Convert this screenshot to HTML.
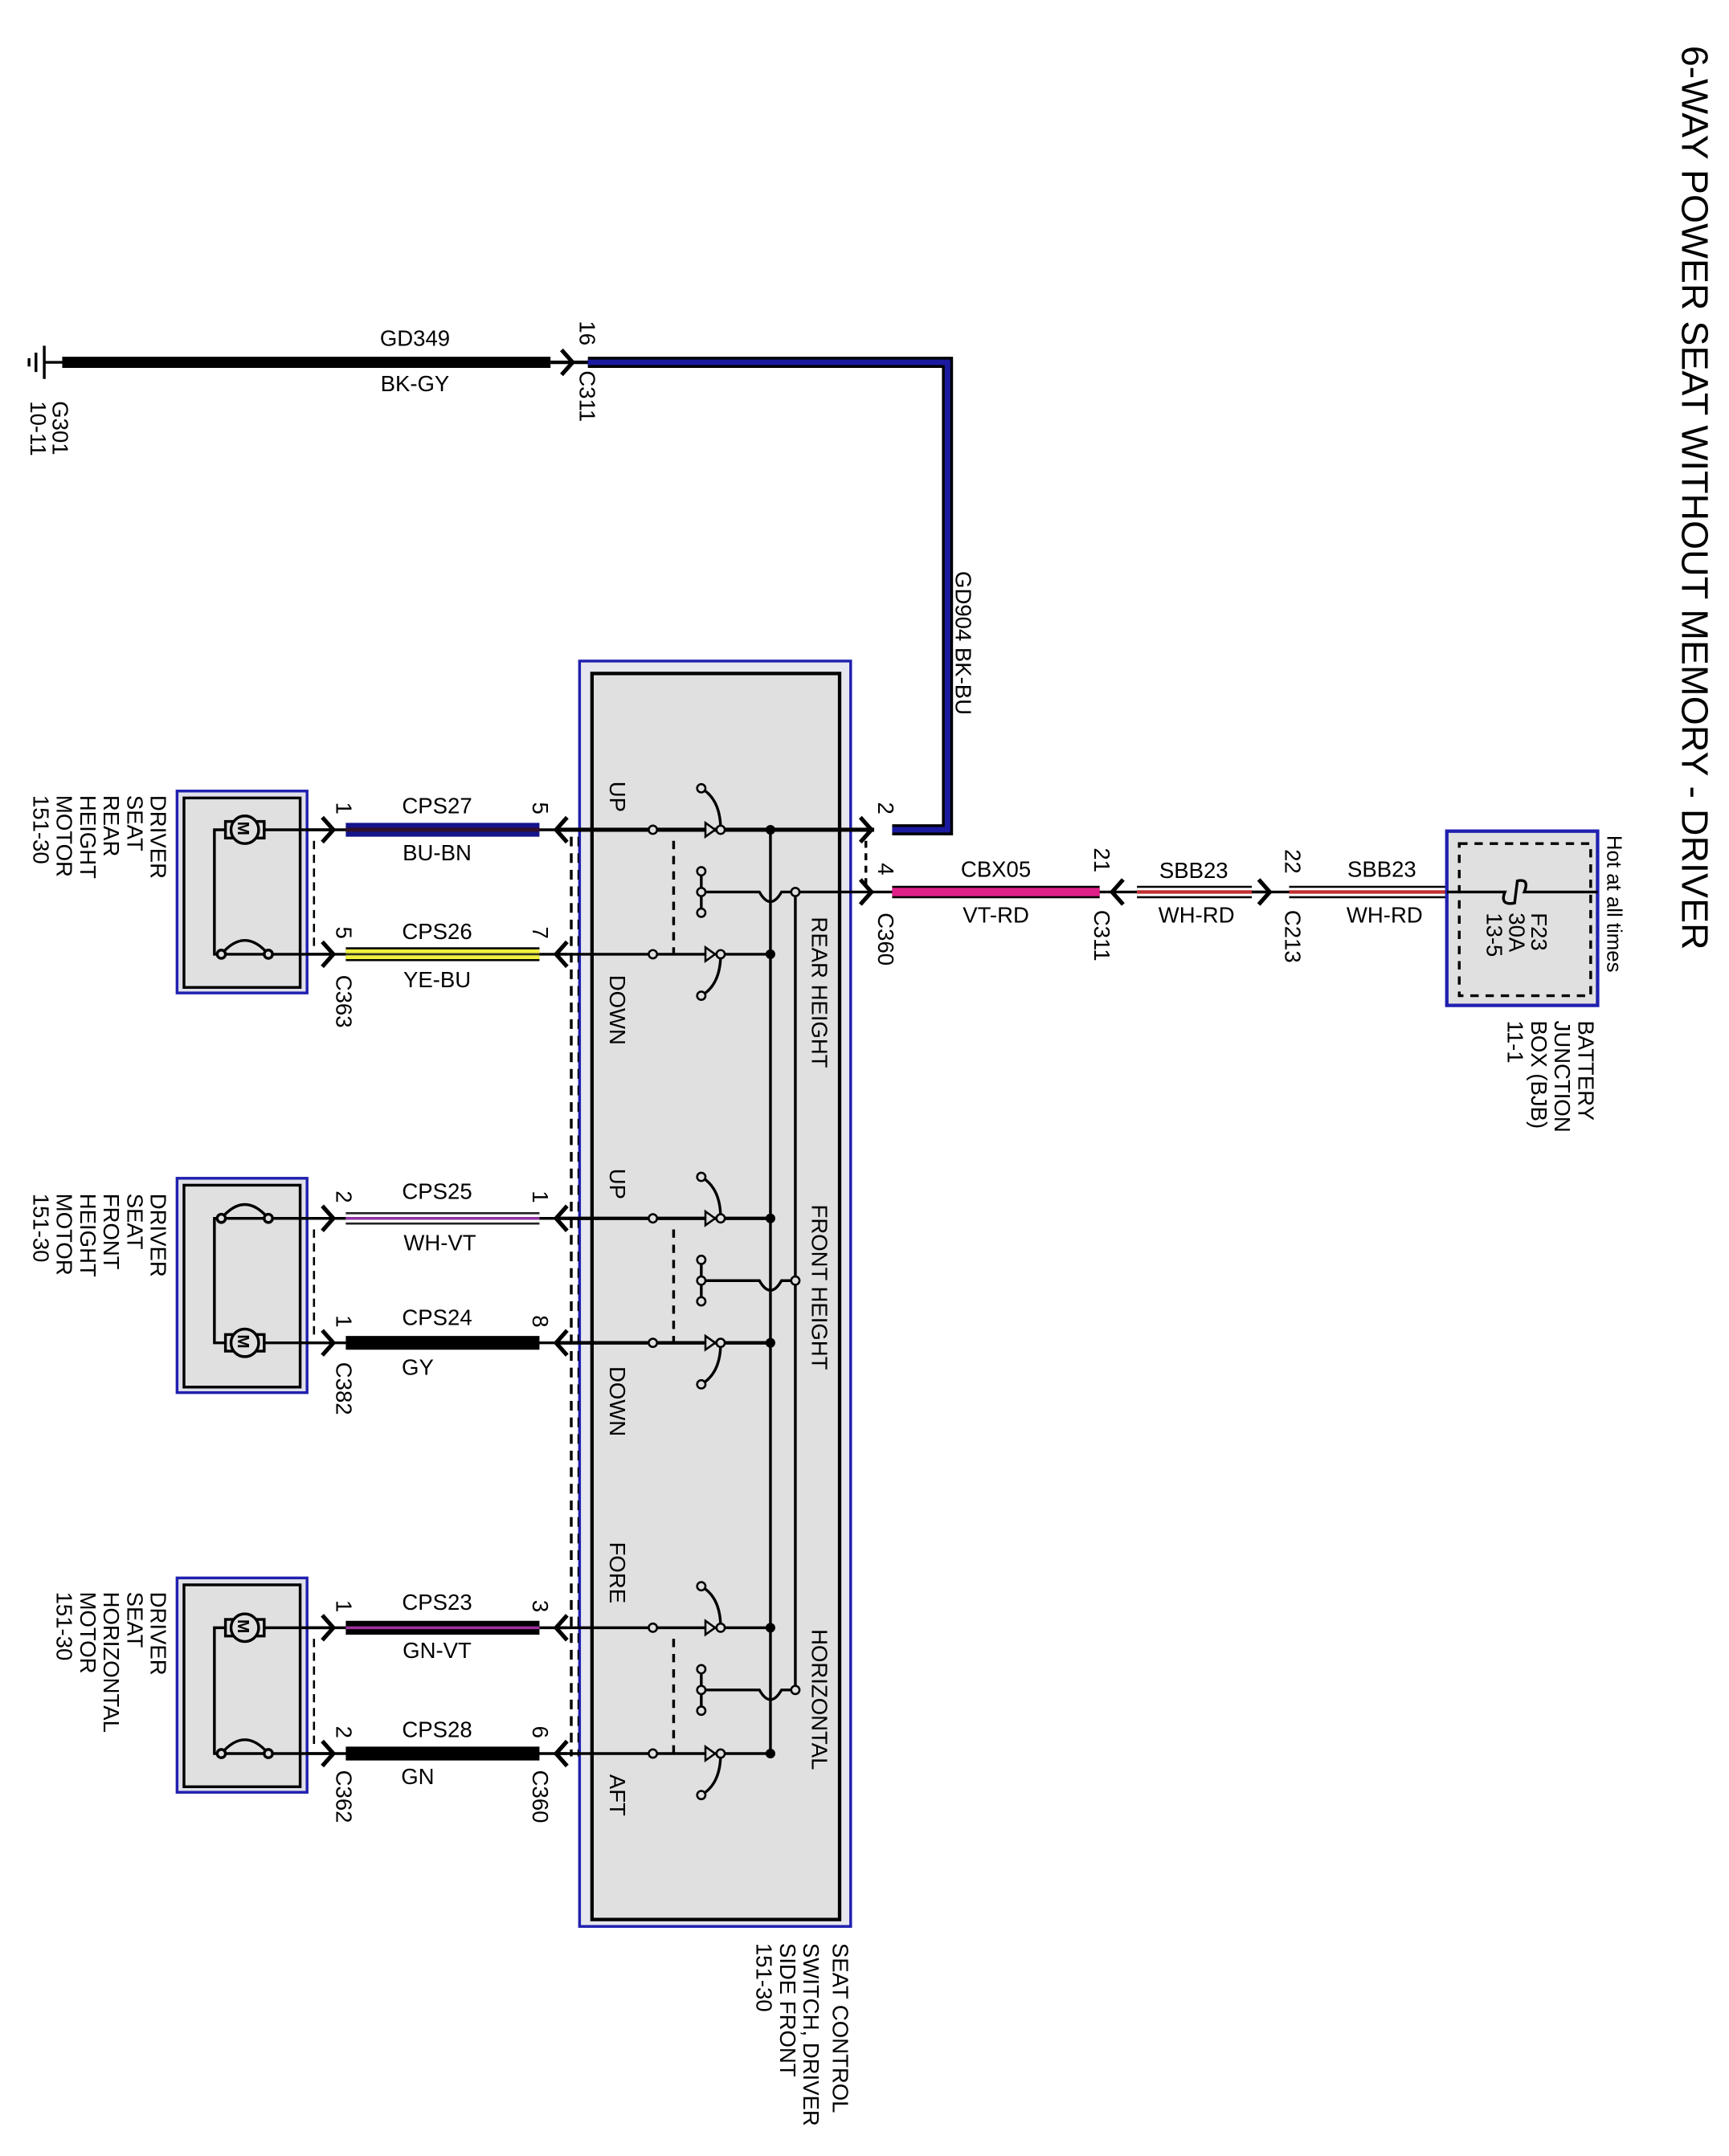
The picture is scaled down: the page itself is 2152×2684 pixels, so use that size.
<!DOCTYPE html>
<html><head><meta charset="utf-8"><style>
html,body{margin:0;padding:0;background:#fff;}
svg{display:block;}
text{font-family:"Liberation Sans",sans-serif;fill:#000;}
.l{font-size:16px;}
.r{font-size:16px;}
</style></head><body>
<svg width="2152" height="2684" viewBox="0 0 1250 1559" preserveAspectRatio="none" xmlns="http://www.w3.org/2000/svg">
<rect width="1250" height="1559" fill="#fff"/>
<!-- title -->
<text transform="translate(1216,33) rotate(90)" style="font-size:27px">6-WAY POWER SEAT WITHOUT MEMORY - DRIVER</text>

<!-- ground -->
<g stroke="#000" stroke-width="2" fill="none">
<line x1="32" y1="250" x2="32" y2="274"/><line x1="26" y1="255" x2="26" y2="269"/><line x1="21" y1="259" x2="21" y2="265"/>
<line x1="32" y1="262" x2="45" y2="262"/>
</g>
<text transform="translate(38,290) rotate(90)" class="r">G301</text>
<text transform="translate(22,290) rotate(90)" class="r">10-11</text>
<line x1="45" y1="262" x2="398" y2="262" stroke="#000" stroke-width="8"/>
<text x="300" y="250" class="l" text-anchor="middle">GD349</text>
<text x="300" y="283" class="l" text-anchor="middle">BK-GY</text>
<line x1="398" y1="262" x2="430" y2="262" stroke="#000" stroke-width="2.5"/>
<path d="M406 253 L414 262 L406 271" stroke="#000" stroke-width="3" fill="none"/>
<text transform="translate(419,232) rotate(90)" class="r">16</text>
<text transform="translate(419,268) rotate(90)" class="r">C311</text>
<!-- GD904 -->
<path d="M425 262 L685 262 L685 600 L645 600" stroke="#000" stroke-width="8" fill="none"/>
<path d="M425 262 L685 262 L685 600 L645 600" stroke="#1a1aa0" stroke-width="4" fill="none"/>
<text transform="translate(691,413) rotate(90)" class="r">GD904  BK-BU</text>

<!-- switch box -->
<rect x="419" y="478" width="196" height="915" fill="#e6e6ee" stroke="#2020b0" stroke-width="2"/>
<rect x="428" y="487" width="179" height="901" fill="#e0e0e0" stroke="#000" stroke-width="2.5"/>
<text transform="translate(550,1405) rotate(90)" class="r">
<tspan x="0" y="0" dy="-52">SEAT CONTROL</tspan></text>
<text transform="translate(581,1405) rotate(90)" class="r">SWITCH, DRIVER</text>
<text transform="translate(564,1405) rotate(90)" class="r">SIDE FRONT</text>
<text transform="translate(547,1405) rotate(90)" class="r">151-30</text>

<!-- long dashed lines -->
<line x1="413" y1="605" x2="413" y2="1270" stroke="#000" stroke-width="2" stroke-dasharray="7,5"/>
<line x1="418" y1="605" x2="418" y2="1270" stroke="#000" stroke-width="1" stroke-dasharray="7,5"/>

<!-- buses -->
<line x1="557" y1="600" x2="557" y2="1268" stroke="#000" stroke-width="2"/>
<line x1="575" y1="645" x2="575" y2="1222" stroke="#000" stroke-width="2"/>
<line x1="575" y1="645" x2="632" y2="645" stroke="#000" stroke-width="2"/>
<line x1="557" y1="600" x2="632" y2="600" stroke="#000" stroke-width="3"/>

<!-- section template repeated -->
<g stroke="#000" fill="none">
<!-- sec1 -->
<line x1="405" y1="600" x2="557" y2="600" stroke-width="3"/>
<line x1="405" y1="690" x2="557" y2="690" stroke-width="2"/>
<line x1="487" y1="608" x2="487" y2="690" stroke-width="2" stroke-dasharray="6,5"/>
<path d="M507 570 Q521 578 521 600" stroke-width="2"/>
<path d="M507 720 Q521 712 521 690" stroke-width="2"/>
<path d="M510 595 L517 600 L510 605 Z" stroke-width="1.5" fill="#e0e0e0"/>
<path d="M510 685 L517 690 L510 695 Z" stroke-width="1.5" fill="#e0e0e0"/>
<line x1="507" y1="630" x2="507" y2="660" stroke-width="2"/>
<path d="M507 645 L549 645 Q557 659 565 645 L575 645" stroke-width="2"/>
<!-- sec2 -->
<line x1="405" y1="881" x2="557" y2="881" stroke-width="2.5"/>
<line x1="405" y1="971" x2="557" y2="971" stroke-width="2.5"/>
<line x1="487" y1="889" x2="487" y2="971" stroke-width="2" stroke-dasharray="6,5"/>
<path d="M507 851 Q521 859 521 881" stroke-width="2"/>
<path d="M507 1001 Q521 993 521 971" stroke-width="2"/>
<path d="M510 876 L517 881 L510 886 Z" stroke-width="1.5" fill="#e0e0e0"/>
<path d="M510 966 L517 971 L510 976 Z" stroke-width="1.5" fill="#e0e0e0"/>
<line x1="507" y1="911" x2="507" y2="941" stroke-width="2"/>
<path d="M507 926 L549 926 Q557 940 565 926 L575 926" stroke-width="2"/>
<!-- sec3 -->
<line x1="405" y1="1177" x2="557" y2="1177" stroke-width="2"/>
<line x1="405" y1="1268" x2="557" y2="1268" stroke-width="2"/>
<line x1="487" y1="1185" x2="487" y2="1268" stroke-width="2" stroke-dasharray="6,5"/>
<path d="M507 1147 Q521 1155 521 1177" stroke-width="2"/>
<path d="M507 1298 Q521 1290 521 1268" stroke-width="2"/>
<path d="M510 1172 L517 1177 L510 1182 Z" stroke-width="1.5" fill="#e0e0e0"/>
<path d="M510 1263 L517 1268 L510 1273 Z" stroke-width="1.5" fill="#e0e0e0"/>
<line x1="507" y1="1207" x2="507" y2="1237" stroke-width="2"/>
<path d="M507 1222 L549 1222 Q557 1236 565 1222 L575 1222" stroke-width="2"/>
</g>
<g fill="#e0e0e0" stroke="#000" stroke-width="1.5">
<circle cx="472" cy="600" r="3"/><circle cx="472" cy="690" r="3"/><circle cx="521" cy="600" r="3"/><circle cx="521" cy="690" r="3"/><circle cx="507" cy="570" r="3"/><circle cx="507" cy="720" r="3"/><circle cx="507" cy="630" r="3"/><circle cx="507" cy="645" r="3"/><circle cx="507" cy="660" r="3"/><circle cx="575" cy="645" r="3"/>
<circle cx="472" cy="881" r="3"/><circle cx="472" cy="971" r="3"/><circle cx="521" cy="881" r="3"/><circle cx="521" cy="971" r="3"/><circle cx="507" cy="851" r="3"/><circle cx="507" cy="1001" r="3"/><circle cx="507" cy="911" r="3"/><circle cx="507" cy="926" r="3"/><circle cx="507" cy="941" r="3"/><circle cx="575" cy="926" r="3"/>
<circle cx="472" cy="1177" r="3"/><circle cx="472" cy="1268" r="3"/><circle cx="521" cy="1177" r="3"/><circle cx="521" cy="1268" r="3"/><circle cx="507" cy="1147" r="3"/><circle cx="507" cy="1298" r="3"/><circle cx="507" cy="1207" r="3"/><circle cx="507" cy="1222" r="3"/><circle cx="507" cy="1237" r="3"/><circle cx="575" cy="1222" r="3"/>
</g>
<g fill="#000">
<circle cx="557" cy="600" r="3.5"/><circle cx="557" cy="690" r="3.5"/><circle cx="557" cy="881" r="3.5"/><circle cx="557" cy="971" r="3.5"/><circle cx="557" cy="1177" r="3.5"/><circle cx="557" cy="1268" r="3.5"/>
</g>
<text transform="translate(441,565) rotate(90)" class="r">UP</text>
<text transform="translate(441,705) rotate(90)" class="r">DOWN</text>
<text transform="translate(587,663) rotate(90)" class="r">REAR HEIGHT</text>
<text transform="translate(441,845) rotate(90)" class="r">UP</text>
<text transform="translate(441,988) rotate(90)" class="r">DOWN</text>
<text transform="translate(587,871) rotate(90)" class="r">FRONT HEIGHT</text>
<text transform="translate(441,1115) rotate(90)" class="r">FORE</text>
<text transform="translate(441,1283) rotate(90)" class="r">AFT</text>
<text transform="translate(587,1178) rotate(90)" class="r">HORIZONTAL</text>

<!-- C360 right connectors -->
<path d="M622 591 L630 600 L622 609 M622 636 L630 645 L622 654" stroke="#000" stroke-width="3" fill="none"/>
<line x1="626" y1="608" x2="626" y2="640" stroke="#000" stroke-width="2" stroke-dasharray="5,4"/>
<text transform="translate(635,580) rotate(90)" class="r">2</text>
<text transform="translate(635,624) rotate(90)" class="r">4</text>
<text transform="translate(635,660) rotate(90)" class="r">C360</text>
<!-- CBX05 -->
<line x1="630" y1="645" x2="800" y2="645" stroke="#000" stroke-width="2"/>
<line x1="645" y1="645" x2="795" y2="645" stroke="#000" stroke-width="9"/>
<line x1="645" y1="645" x2="795" y2="645" stroke="#e0208a" stroke-width="6"/>
<text x="720" y="634" class="l" text-anchor="middle">CBX05</text>
<text x="720" y="667" class="l" text-anchor="middle">VT-RD</text>
<path d="M812 636 L804 645 L812 654" stroke="#000" stroke-width="3" fill="none"/>
<line x1="800" y1="645" x2="915" y2="645" stroke="#000" stroke-width="2"/>
<text transform="translate(791,613) rotate(90)" class="r">21</text>
<text transform="translate(791,658) rotate(90)" class="r">C311</text>
<!-- SBB23 -->
<g>
<line x1="822" y1="645" x2="905" y2="645" stroke="#000" stroke-width="9"/>
<line x1="822" y1="645" x2="905" y2="645" stroke="#fff" stroke-width="6"/>
<line x1="822" y1="645" x2="905" y2="645" stroke="#c03030" stroke-width="2.5"/>
<line x1="932" y1="645" x2="1046" y2="645" stroke="#000" stroke-width="9"/>
<line x1="932" y1="645" x2="1046" y2="645" stroke="#fff" stroke-width="6"/>
<line x1="932" y1="645" x2="1046" y2="645" stroke="#c03030" stroke-width="2.5"/>
</g>
<line x1="905" y1="645" x2="932" y2="645" stroke="#000" stroke-width="2"/>
<path d="M910 636 L918 645 L910 654" stroke="#000" stroke-width="3" fill="none"/>
<text x="863" y="635" class="l" text-anchor="middle">SBB23</text>
<text x="865" y="667" class="l" text-anchor="middle">WH-RD</text>
<text x="999" y="634" class="l" text-anchor="middle">SBB23</text>
<text x="1001" y="667" class="l" text-anchor="middle">WH-RD</text>
<text transform="translate(929,614) rotate(90)" class="r">22</text>
<text transform="translate(929,658) rotate(90)" class="r">C213</text>
<!-- BJB -->
<rect x="1046" y="601" width="109" height="126" fill="#e0e0e0" stroke="#2020b0" stroke-width="2.5"/>
<rect x="1055" y="610" width="95" height="110" fill="none" stroke="#000" stroke-width="2" stroke-dasharray="6,5"/>
<path d="M1046 645 L1088 645 Q1084 655 1095 653 L1097 637 Q1106 635 1102 645 L1155 645" stroke="#000" stroke-width="2" fill="none"/>
<text transform="translate(1107,660) rotate(90)" class="r">F23</text>
<text transform="translate(1091,660) rotate(90)" class="r">30A</text>
<text transform="translate(1075,660) rotate(90)" class="r">13-5</text>
<text transform="translate(1162,604) rotate(90)" style="font-size:15px">Hot at all times</text>
<text transform="translate(1141,738) rotate(90)" class="r">BATTERY</text>
<text transform="translate(1124,738) rotate(90)" class="r">JUNCTION</text>
<text transform="translate(1107,738) rotate(90)" class="r">BOX (BJB)</text>
<text transform="translate(1090,738) rotate(90)" class="r">11-1</text>

<!-- motor boxes -->
<g>
<rect x="128" y="572" width="94" height="146" fill="#e0e0ea" stroke="#2020b0" stroke-width="2"/>
<rect x="133" y="577" width="84" height="137" fill="#e0e0e0" stroke="#000" stroke-width="2"/>
<rect x="128" y="852" width="94" height="155" fill="#e0e0ea" stroke="#2020b0" stroke-width="2"/>
<rect x="133" y="857" width="84" height="146" fill="#e0e0e0" stroke="#000" stroke-width="2"/>
<rect x="128" y="1141" width="94" height="155" fill="#e0e0ea" stroke="#2020b0" stroke-width="2"/>
<rect x="133" y="1146" width="84" height="146" fill="#e0e0e0" stroke="#000" stroke-width="2"/>
</g>
<g stroke="#000" stroke-width="2" fill="none">
<path d="M240 600 L155 600 L155 690 L240 690"/>
<path d="M160 690 Q177 670 194 690"/>
<path d="M240 881 L155 881 L155 971 L240 971"/>
<path d="M160 881 Q177 861 194 881"/>
<path d="M240 1177 L155 1177 L155 1268 L240 1268"/>
<path d="M160 1268 Q177 1248 194 1268"/>
</g>
<g stroke="#000" stroke-width="2" fill="#e0e0e0">
<rect x="163" y="594" width="28" height="12"/><circle cx="177" cy="600" r="10"/>
<rect x="163" y="965" width="28" height="12"/><circle cx="177" cy="971" r="10"/>
<rect x="163" y="1171" width="28" height="12"/><circle cx="177" cy="1177" r="10"/>
<circle cx="160" cy="690" r="3"/><circle cx="194" cy="690" r="3"/>
<circle cx="160" cy="881" r="3"/><circle cx="194" cy="881" r="3"/>
<circle cx="160" cy="1268" r="3"/><circle cx="194" cy="1268" r="3"/>
</g>
<text transform="translate(172,594) rotate(90)" style="font-size:12px;font-weight:bold">M</text>
<text transform="translate(172,965) rotate(90)" style="font-size:12px;font-weight:bold">M</text>
<text transform="translate(172,1171) rotate(90)" style="font-size:12px;font-weight:bold">M</text>

<!-- left dashed -->
<line x1="227" y1="608" x2="227" y2="684" stroke="#000" stroke-width="1.5" stroke-dasharray="6,4"/>
<line x1="227" y1="889" x2="227" y2="965" stroke="#000" stroke-width="1.5" stroke-dasharray="6,4"/>
<line x1="227" y1="1185" x2="227" y2="1262" stroke="#000" stroke-width="1.5" stroke-dasharray="6,4"/>

<!-- harness wires -->
<g stroke="#000" stroke-width="2">
<line x1="222" y1="600" x2="410" y2="600"/><line x1="222" y1="690" x2="410" y2="690"/>
<line x1="222" y1="881" x2="410" y2="881"/><line x1="222" y1="971" x2="410" y2="971"/>
<line x1="222" y1="1177" x2="410" y2="1177"/><line x1="222" y1="1268" x2="410" y2="1268"/>
</g>
<!-- CPS27 -->
<line x1="250" y1="600" x2="390" y2="600" stroke="#14148c" stroke-width="10"/>
<line x1="250" y1="600" x2="390" y2="600" stroke="#301030" stroke-width="3"/>
<!-- CPS26 -->
<line x1="250" y1="690" x2="390" y2="690" stroke="#000" stroke-width="10"/>
<line x1="250" y1="690" x2="390" y2="690" stroke="#f0f040" stroke-width="7"/>
<line x1="250" y1="690" x2="390" y2="690" stroke="#303020" stroke-width="1.5"/>
<!-- CPS25 -->
<line x1="250" y1="881" x2="390" y2="881" stroke="#222" stroke-width="9"/>
<line x1="250" y1="881" x2="390" y2="881" stroke="#fff" stroke-width="6"/>
<line x1="250" y1="881" x2="390" y2="881" stroke="#9030a0" stroke-width="2"/>
<!-- CPS24 -->
<line x1="250" y1="971" x2="390" y2="971" stroke="#000" stroke-width="10"/>
<!-- CPS23 -->
<line x1="250" y1="1177" x2="390" y2="1177" stroke="#000" stroke-width="10"/>
<line x1="250" y1="1177" x2="390" y2="1177" stroke="#a030a0" stroke-width="2"/>
<!-- CPS28 -->
<line x1="250" y1="1268" x2="390" y2="1268" stroke="#000" stroke-width="10"/>

<g stroke="#000" stroke-width="3" fill="none">
<path d="M233 591 L241 600 L233 609"/><path d="M233 681 L241 690 L233 699"/>
<path d="M233 872 L241 881 L233 890"/><path d="M233 962 L241 971 L233 980"/>
<path d="M233 1168 L241 1177 L233 1186"/><path d="M233 1259 L241 1268 L233 1277"/>
<path d="M410 591 L402 600 L410 609"/><path d="M410 681 L402 690 L410 699"/>
<path d="M410 872 L402 881 L410 890"/><path d="M410 962 L402 971 L410 980"/>
<path d="M410 1168 L402 1177 L410 1186"/><path d="M410 1259 L402 1268 L410 1277"/>
</g>
<g class="l" text-anchor="middle">
<text x="316" y="588" class="l" text-anchor="middle">CPS27</text><text x="316" y="622" class="l" text-anchor="middle">BU-BN</text>
<text x="316" y="679" class="l" text-anchor="middle">CPS26</text><text x="316" y="714" class="l" text-anchor="middle">YE-BU</text>
<text x="316" y="867" class="l" text-anchor="middle">CPS25</text><text x="318" y="904" class="l" text-anchor="middle">WH-VT</text>
<text x="316" y="958" class="l" text-anchor="middle">CPS24</text><text x="302" y="994" class="l" text-anchor="middle">GY</text>
<text x="316" y="1164" class="l" text-anchor="middle">CPS23</text><text x="316" y="1199" class="l" text-anchor="middle">GN-VT</text>
<text x="316" y="1256" class="l" text-anchor="middle">CPS28</text><text x="302" y="1290" class="l" text-anchor="middle">GN</text>
</g>
<g>
<text transform="translate(243,580) rotate(90)" class="r">1</text><text transform="translate(385,580) rotate(90)" class="r">5</text>
<text transform="translate(243,670) rotate(90)" class="r">5</text><text transform="translate(385,670) rotate(90)" class="r">7</text>
<text transform="translate(243,861) rotate(90)" class="r">2</text><text transform="translate(385,861) rotate(90)" class="r">1</text>
<text transform="translate(243,951) rotate(90)" class="r">1</text><text transform="translate(385,951) rotate(90)" class="r">8</text>
<text transform="translate(243,1157) rotate(90)" class="r">1</text><text transform="translate(385,1157) rotate(90)" class="r">3</text>
<text transform="translate(243,1248) rotate(90)" class="r">2</text><text transform="translate(385,1248) rotate(90)" class="r">6</text>
<text transform="translate(243,705) rotate(90)" class="r">C363</text>
<text transform="translate(243,985) rotate(90)" class="r">C382</text>
<text transform="translate(243,1280) rotate(90)" class="r">C362</text>
<text transform="translate(385,1280) rotate(90)" class="r">C360</text>
</g>

<!-- motor labels -->
<g>
<text transform="translate(109,575) rotate(90)" class="r">DRIVER</text>
<text transform="translate(92,575) rotate(90)" class="r">SEAT</text>
<text transform="translate(75,575) rotate(90)" class="r">REAR</text>
<text transform="translate(58,575) rotate(90)" class="r">HEIGHT</text>
<text transform="translate(41,575) rotate(90)" class="r">MOTOR</text>
<text transform="translate(24,575) rotate(90)" class="r">151-30</text>
<text transform="translate(109,863) rotate(90)" class="r">DRIVER</text>
<text transform="translate(92,863) rotate(90)" class="r">SEAT</text>
<text transform="translate(75,863) rotate(90)" class="r">FRONT</text>
<text transform="translate(58,863) rotate(90)" class="r">HEIGHT</text>
<text transform="translate(41,863) rotate(90)" class="r">MOTOR</text>
<text transform="translate(24,863) rotate(90)" class="r">151-30</text>
<text transform="translate(109,1151) rotate(90)" class="r">DRIVER</text>
<text transform="translate(92,1151) rotate(90)" class="r">SEAT</text>
<text transform="translate(75,1151) rotate(90)" class="r">HORIZONTAL</text>
<text transform="translate(58,1151) rotate(90)" class="r">MOTOR</text>
<text transform="translate(41,1151) rotate(90)" class="r">151-30</text>
</g>
</svg>
</body></html>
